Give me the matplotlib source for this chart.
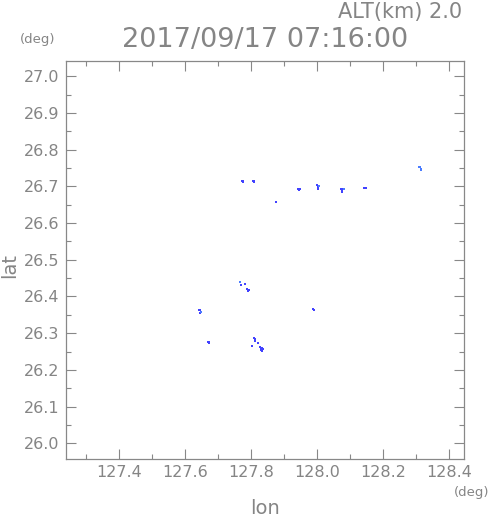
import matplotlib
matplotlib.use("Agg")
import matplotlib.pyplot as plt
from matplotlib.ticker import MultipleLocator

# echo cells (lon, lat)
lon_dark = [127.772, 127.775, 127.775, 127.806, 127.808, 127.808,
            127.943, 127.946, 127.949, 127.946,
            128.000, 128.003, 128.006, 128.003, 128.003,
            128.072, 128.075, 128.078, 128.075, 128.075,
            128.143, 128.146, 128.149,
            127.874,
            127.770, 127.782, 127.787, 127.790, 127.793, 127.790,
            127.988, 127.991,
            127.809, 127.811, 127.811, 127.804, 127.821,
            127.826, 127.829, 127.832, 127.835, 127.829, 127.832,
            127.642, 127.645, 127.648, 127.645,
            127.670, 127.673, 127.673]
lat_dark = [26.714, 26.714, 26.711, 26.714, 26.714, 26.711,
            26.692, 26.692, 26.692, 26.689,
            26.703, 26.700, 26.700, 26.697, 26.694,
            26.692, 26.692, 26.692, 26.689, 26.686,
            26.697, 26.697, 26.697,
            26.657,
            26.430, 26.434, 26.420, 26.417, 26.417, 26.414,
            26.367, 26.364,
            26.286, 26.283, 26.279, 26.266, 26.272,
            26.263, 26.260, 26.260, 26.257, 26.254, 26.251,
            26.362, 26.362, 26.359, 26.356,
            26.276, 26.276, 26.273]
lon_light = [128.307, 128.310, 128.313, 128.313, 127.767, 127.648, 128.081, 128.005]
lat_light = [26.753, 26.753, 26.747, 26.744, 26.439, 26.359, 26.692, 26.700]

grey = "#858585"
fig = plt.figure(figsize=(4.91, 5.21), dpi=100)
ax = fig.add_axes([0.1344, 0.119, 0.811, 0.764])

ax.scatter(lon_dark, lat_dark, marker="s", s=4, color="#4242ff", linewidths=0)
ax.scatter(lon_light, lat_light, marker="s", s=4, color="#4a7cff", linewidths=0)

ax.set_xlim(127.24, 128.445)
ax.set_ylim(25.957, 27.042)
ax.xaxis.set_major_locator(MultipleLocator(0.2))
ax.xaxis.set_minor_locator(MultipleLocator(0.1))
ax.yaxis.set_major_locator(MultipleLocator(0.1))
ax.yaxis.set_minor_locator(MultipleLocator(0.05))
ax.xaxis.set_major_formatter(lambda v, p: f"{v:.1f}")
ax.yaxis.set_major_formatter(lambda v, p: f"{v:.1f}")
ax.tick_params(which="both", direction="in", top=True, right=True,
               color="#888888", labelcolor=grey, labelsize=11.5)
ax.tick_params(axis="x", pad=4)
ax.tick_params(axis="y", pad=5)
ax.tick_params(which="major", length=7, width=0.8)
ax.tick_params(which="minor", length=3.5, width=0.8)
for s in ax.spines.values():
    s.set_color("#888888")
    s.set_linewidth(0.9)

fig.text(0.54, 0.024, "lon", color=grey, fontsize=14, ha="center", va="center")
fig.text(0.02, 0.49, "lat", color=grey, fontsize=14, ha="center", va="center", rotation=90)

fig.text(0.941, 0.977, "ALT(km) 2.0", color=grey, fontsize=15, ha="right", va="center")
fig.text(0.54, 0.924, "2017/09/17 07:16:00", color=grey, fontsize=19.5, ha="center", va="center")
fig.text(0.077, 0.924, "(deg)", color=grey, fontsize=9.5, ha="center", va="center")
fig.text(0.997, 0.055, "(deg)", color=grey, fontsize=9.5, ha="right", va="center")

fig.savefig("out.png", dpi=100)
